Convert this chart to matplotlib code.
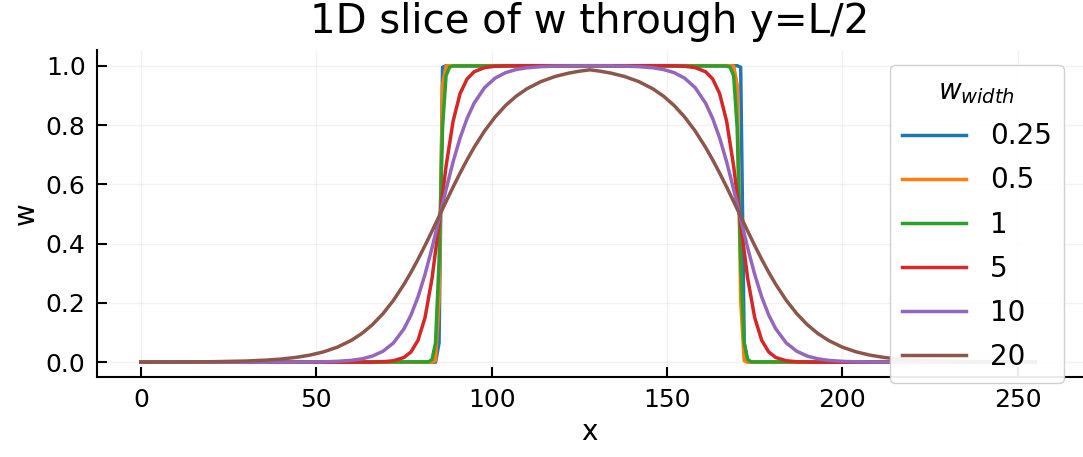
import numpy as np
import matplotlib
matplotlib.use("Agg")
import matplotlib.pyplot as plt

# sample positions along x for the smooth profiles
x_smooth = [0, 10, 20, 30, 36, 40, 44, 48, 52, 56, 60, 63, 66, 69, 72, 75, 77, 79, 81, 83,
            85, 87, 89, 91, 93, 95, 98, 101, 104, 107, 110, 114, 118, 122, 125, 128,
            131, 134, 138, 142, 146, 149, 152, 155, 158, 161, 163, 165, 167, 169, 171,
            173, 175, 177, 179, 181, 184, 187, 190, 193, 196, 200, 204, 208, 212, 216,
            220, 226, 236, 246, 255]
# and for the near-step profiles
x_sharp = [0, 82, 83, 84, 85, 86, 87, 88, 89, 128, 167, 168, 169, 170, 171, 172, 173, 174, 255]

widths = ["0.25", "0.5", "1", "5", "10", "20"]

w_025 = [0, 0, 0, 0, 0.065, 0.995, 1, 1, 1, 1, 1, 1, 1, 1, 0.995, 0.065, 0, 0, 0]
w_05 = [0, 0, 0, 0.005, 0.209, 0.935, 0.999, 1, 1, 1, 1, 1, 0.999, 0.935, 0.209, 0.005, 0, 0, 0]
w_1 = [0, 0.001, 0.009, 0.065, 0.339, 0.791, 0.966, 0.995, 0.999, 1,
       0.999, 0.995, 0.966, 0.791, 0.339, 0.065, 0.009, 0.001, 0]

w_5 = [0, 0, 0, 0, 0, 0, 0, 0, 0, 0, 0, 0.0001, 0.0004, 0.0015, 0.0048, 0.0158, 0.0345,
       0.0736, 0.1502, 0.2823, 0.4667, 0.6608, 0.8125, 0.9060, 0.9555, 0.9795, 0.9937,
       0.9981, 0.9994, 0.9998, 1, 1, 1, 1, 1, 1,
       1, 1, 1, 1, 1, 0.9998, 0.9994, 0.9981, 0.9937, 0.9795, 0.9555, 0.9060, 0.8125,
       0.6608, 0.4667, 0.2823, 0.1502, 0.0736, 0.0345, 0.0158, 0.0048, 0.0015, 0.0004,
       0.0001, 0, 0, 0, 0, 0, 0, 0, 0, 0, 0, 0]
w_10 = [0, 0, 0, 0, 0, 0.0001, 0.0003, 0.0006, 0.0013, 0.0028, 0.0062, 0.0113, 0.0205,
        0.0368, 0.0648, 0.1124, 0.1589, 0.2198, 0.2959, 0.3854, 0.4833, 0.5826, 0.6755,
        0.7564, 0.8224, 0.8736, 0.9264, 0.9582, 0.9767, 0.9871, 0.9929, 0.9968, 0.9985,
        0.9993, 0.9996, 0.9998,
        0.9996, 0.9993, 0.9985, 0.9968, 0.9929, 0.9871, 0.9767, 0.9582, 0.9264, 0.8736,
        0.8224, 0.7564, 0.6755, 0.5826, 0.4833, 0.3854, 0.2959, 0.2198, 0.1589, 0.1124,
        0.0648, 0.0368, 0.0205, 0.0113, 0.0062, 0.0028, 0.0013, 0.0006, 0.0003, 0.0001,
        0, 0, 0, 0, 0]
w_20 = [0.0002, 0.0005, 0.0015, 0.0039, 0.0072, 0.0106, 0.0158, 0.0234, 0.0345, 0.0506,
        0.0736, 0.0968, 0.1264, 0.1634, 0.2086, 0.2625, 0.3030, 0.3468, 0.3934, 0.4421,
        0.4917, 0.5416, 0.5907, 0.6380, 0.6828, 0.7245, 0.7802, 0.8273, 0.8661, 0.8973,
        0.9218, 0.9462, 0.9633, 0.9751, 0.9814, 0.9862,
        0.9814, 0.9751, 0.9633, 0.9462, 0.9218, 0.8973, 0.8661, 0.8273, 0.7802, 0.7245,
        0.6828, 0.6380, 0.5907, 0.5416, 0.4917, 0.4421, 0.3934, 0.3468, 0.3030, 0.2625,
        0.2086, 0.1634, 0.1264, 0.0968, 0.0736, 0.0506, 0.0345, 0.0234, 0.0158, 0.0106,
        0.0072, 0.0039, 0.0015, 0.0005, 0.0002]

series = [(x_sharp, w_025), (x_sharp, w_05), (x_sharp, w_1),
          (x_smooth, w_5), (x_smooth, w_10), (x_smooth, w_20)]
colors = ["#1f77b4", "#ff7f0e", "#2ca02c", "#d62728", "#9467bd", "#8c564b"]

fig = plt.figure(figsize=(10.83, 4.57), dpi=100)
ax = fig.add_axes([0.0893, 0.1744, 0.9107, 0.7162])

for (xs, vals), lab, c in zip(series, widths, colors):
    ax.plot(xs, vals, color=c, lw=2.5, label=lab)

ax.set_xlim(-12.6, 268.6)
ax.set_ylim(-0.051, 1.053)
ax.set_xticks([0, 50, 100, 150, 200, 250])
ax.set_yticks([0.0, 0.2, 0.4, 0.6, 0.8, 1.0])
ax.set_yticklabels(["0.0", "0.2", "0.4", "0.6", "0.8", "1.0"])
ax.tick_params(direction="in", length=7, width=1.5, labelsize=18, pad=8)
for s in ["top", "right"]:
    ax.spines[s].set_visible(False)
for s in ["left", "bottom"]:
    ax.spines[s].set_linewidth(1.5)
ax.grid(True, color="#000000", alpha=0.05, lw=1)

ax.set_title("1D slice of w through y=L/2", fontsize=29, pad=12)
ax.set_xlabel("x", fontsize=20)
ax.set_ylabel("w", fontsize=20)

leg = ax.legend(title=r"$w_{width}$", fontsize=20, title_fontsize=20,
                loc="upper right", bbox_to_anchor=(0.9825, 0.858),
                bbox_transform=fig.transFigure, borderaxespad=0,
                handlelength=2.3, handletextpad=0.85, labelspacing=0.58,
                framealpha=0.92, edgecolor="#cccccc", fancybox=True, borderpad=0.45)

fig.savefig("out.png", dpi=100)
